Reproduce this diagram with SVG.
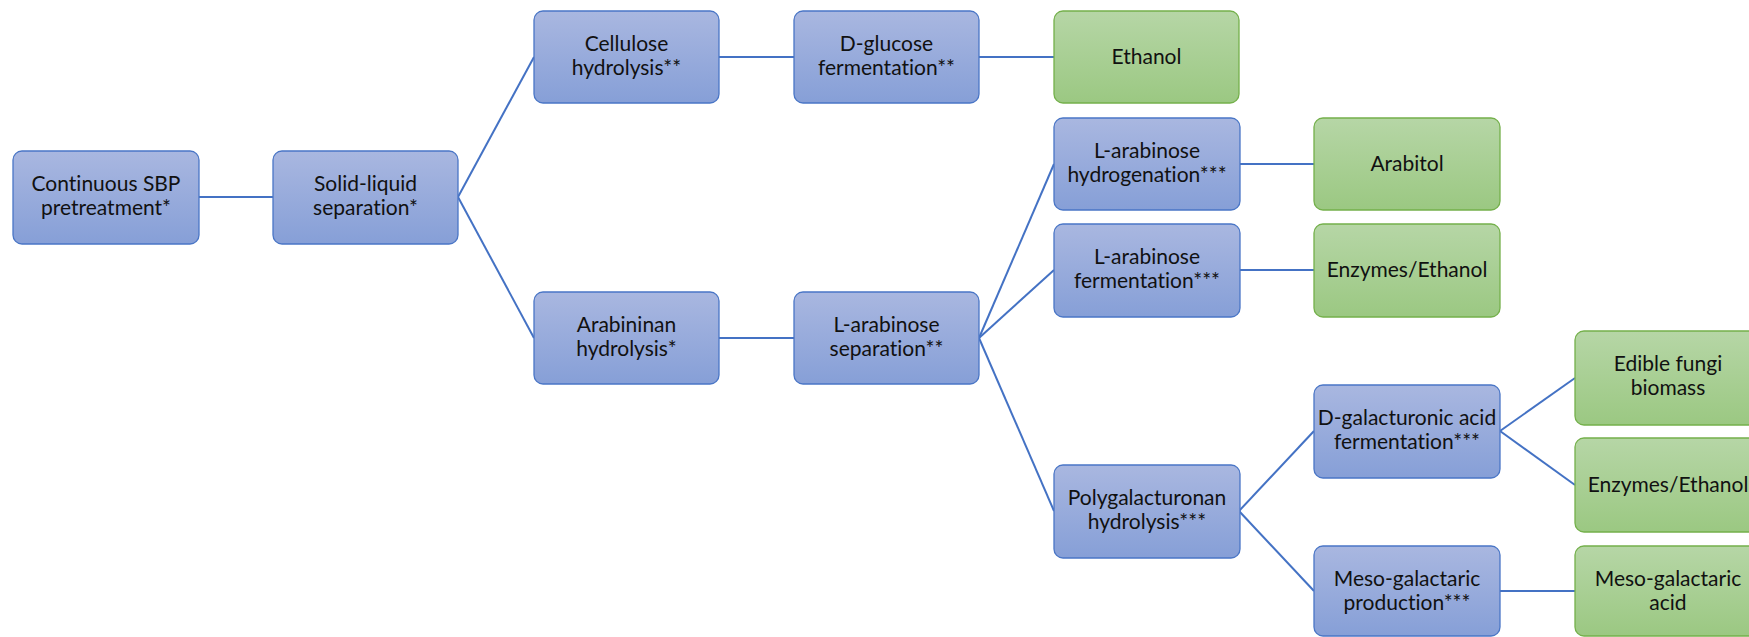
<svg xmlns="http://www.w3.org/2000/svg" width="1749" height="637" viewBox="0 0 1749 637">
  <defs>
    <linearGradient id="gBlue" x1="0" y1="0" x2="0" y2="1">
      <stop offset="0" stop-color="#A9B7E0"/>
      <stop offset="1" stop-color="#869FD7"/>
    </linearGradient>
    <linearGradient id="gGreen" x1="0" y1="0" x2="0" y2="1">
      <stop offset="0" stop-color="#B6D6A6"/>
      <stop offset="1" stop-color="#9BC882"/>
    </linearGradient>
    <style>
      .proc rect { fill: url(#gBlue); stroke: #4A76C6; stroke-width: 1.3; }
      .prod rect { fill: url(#gGreen); stroke: #74B04B; stroke-width: 1.3; }
      text { font-family: Lato, "Open Sans", "Liberation Sans", sans-serif; font-size: 21px; fill: #111; text-anchor: middle; font-variant-ligatures: none; font-feature-settings: "liga" 0, "dlig" 0; }
      #connectors line { stroke: #4472C4; stroke-width: 2; }
    </style>
  </defs>
  <rect width="1749" height="637" fill="#ffffff"/>

  <g id="connectors">
    <line x1="199" y1="197" x2="273" y2="197"/>
    <line x1="458" y1="197" x2="534" y2="57"/>
    <line x1="458" y1="197" x2="534" y2="338"/>
    <line x1="719" y1="57" x2="794" y2="57"/>
    <line x1="979" y1="57" x2="1054" y2="57"/>
    <line x1="719" y1="338" x2="794" y2="338"/>
    <line x1="979" y1="338" x2="1054" y2="164"/>
    <line x1="979" y1="338" x2="1054" y2="270"/>
    <line x1="979" y1="338" x2="1054" y2="511"/>
    <line x1="1239" y1="164" x2="1314" y2="164"/>
    <line x1="1239" y1="270" x2="1314" y2="270"/>
    <line x1="1239" y1="511" x2="1314" y2="431"/>
    <line x1="1239" y1="511" x2="1314" y2="591"/>
    <line x1="1500" y1="431" x2="1575" y2="378"/>
    <line x1="1500" y1="431" x2="1575" y2="485"/>
    <line x1="1500" y1="591" x2="1575" y2="591"/>
  </g>

  <g id="n-pretreatment" class="proc">
    <rect x="13" y="151" width="186" height="93" rx="9"/>
    <text x="106" y="191">Continuous SBP</text>
    <text x="106" y="215">pretreatment*</text>
  </g>
  <g id="n-separation" class="proc">
    <rect x="273" y="151" width="185" height="93" rx="9"/>
    <text x="365.5" y="191">Solid-liquid</text>
    <text x="365.5" y="215">separation*</text>
  </g>
  <g id="n-cellulose" class="proc">
    <rect x="534" y="11" width="185" height="92" rx="9"/>
    <text x="626.5" y="51">Cellulose</text>
    <text x="626.5" y="75">hydrolysis**</text>
  </g>
  <g id="n-dglucose" class="proc">
    <rect x="794" y="11" width="185" height="92" rx="9"/>
    <text x="886.5" y="51">D-glucose</text>
    <text x="886.5" y="75">fermentation**</text>
  </g>
  <g id="n-ethanol" class="prod">
    <rect x="1054" y="11" width="185" height="92" rx="9"/>
    <text x="1146.5" y="64">Ethanol</text>
  </g>
  <g id="n-arabininan" class="proc">
    <rect x="534" y="292" width="185" height="92" rx="9"/>
    <text x="626.5" y="332">Arabininan</text>
    <text x="626.5" y="356">hydrolysis*</text>
  </g>
  <g id="n-larabsep" class="proc">
    <rect x="794" y="292" width="185" height="92" rx="9"/>
    <text x="886.5" y="332">L-arabinose</text>
    <text x="886.5" y="356">separation**</text>
  </g>
  <g id="n-hydrogenation" class="proc">
    <rect x="1054" y="118" width="186" height="92" rx="9"/>
    <text x="1147" y="158">L-arabinose</text>
    <text x="1147" y="182">hydrogenation***</text>
  </g>
  <g id="n-arabitol" class="prod">
    <rect x="1314" y="118" width="186" height="92" rx="9"/>
    <text x="1407" y="171">Arabitol</text>
  </g>
  <g id="n-larabferm" class="proc">
    <rect x="1054" y="224" width="186" height="93" rx="9"/>
    <text x="1147" y="264">L-arabinose</text>
    <text x="1147" y="288">fermentation***</text>
  </g>
  <g id="n-enzymes1" class="prod">
    <rect x="1314" y="224" width="186" height="93" rx="9"/>
    <text x="1407" y="277">Enzymes/Ethanol</text>
  </g>
  <g id="n-polygal" class="proc">
    <rect x="1054" y="465" width="186" height="93" rx="9"/>
    <text x="1147" y="505">Polygalacturonan</text>
    <text x="1147" y="529">hydrolysis***</text>
  </g>
  <g id="n-dgalact" class="proc">
    <rect x="1314" y="385" width="186" height="93" rx="9"/>
    <text x="1407" y="425">D-galacturonic acid</text>
    <text x="1407" y="449">fermentation***</text>
  </g>
  <g id="n-mesoprod" class="proc">
    <rect x="1314" y="546" width="186" height="90" rx="9"/>
    <text x="1407" y="586">Meso-galactaric</text>
    <text x="1407" y="610">production***</text>
  </g>
  <g id="n-fungi" class="prod">
    <rect x="1575" y="331" width="186" height="94" rx="9"/>
    <text x="1668" y="371">Edible fungi</text>
    <text x="1668" y="395">biomass</text>
  </g>
  <g id="n-enzymes2" class="prod">
    <rect x="1575" y="438" width="186" height="94" rx="9"/>
    <text x="1668" y="492">Enzymes/Ethanol</text>
  </g>
  <g id="n-mesoacid" class="prod">
    <rect x="1575" y="546" width="186" height="90" rx="9"/>
    <text x="1668" y="586">Meso-galactaric</text>
    <text x="1668" y="610">acid</text>
  </g>
</svg>
